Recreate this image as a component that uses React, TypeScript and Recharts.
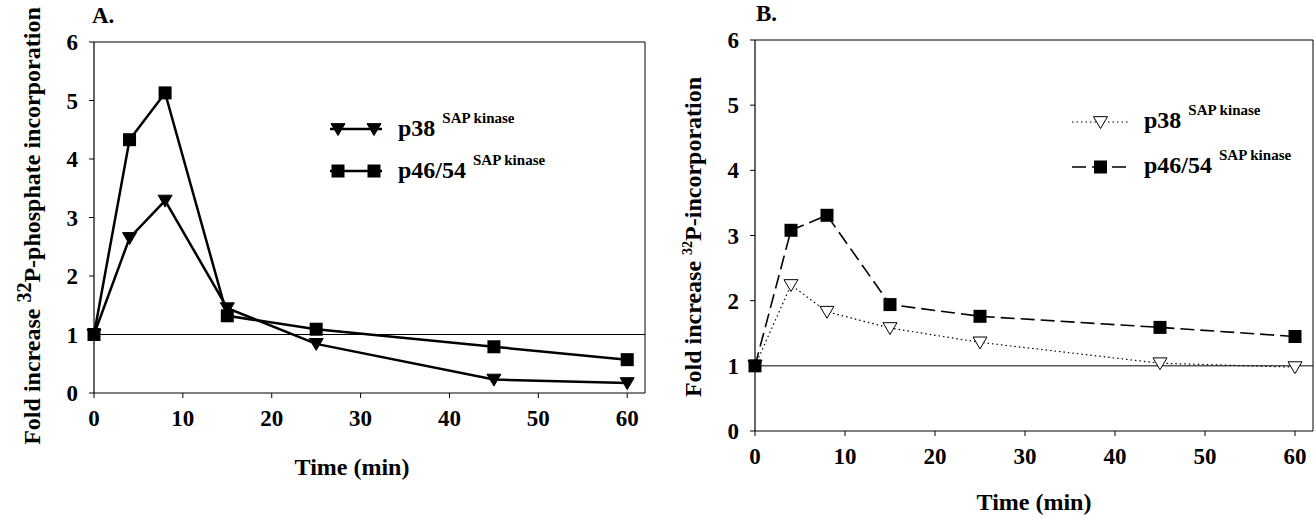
import { LineChart, Line, XAxis, YAxis, ReferenceLine, Legend } from 'recharts'

const FONT = "'Liberation Serif', 'DejaVu Serif', serif"

// time points (min)
const TIME = [0, 4, 8, 15, 25, 45, 60]

// panel A
const A_P38 = [1.0, 2.65, 3.29, 1.45, 0.84, 0.23, 0.17]
const A_P46 = [1.0, 4.33, 5.13, 1.32, 1.09, 0.79, 0.57]

// panel B
const B_P38 = [1.0, 2.24, 1.83, 1.58, 1.36, 1.04, 0.98]
const B_P46 = [1.0, 3.08, 3.31, 1.94, 1.76, 1.59, 1.45]

const X_TICKS = [0, 10, 20, 30, 40, 50, 60]
const Y_TICKS = [0, 1, 2, 3, 4, 5, 6]

const dataA = TIME.map((t, i) => ({ t, p38: A_P38[i], p46: A_P46[i] }))
const dataB = TIME.map((t, i) => ({ t, p38: B_P38[i], p46: B_P46[i] }))

const tickStyle = { fill: '#000', fontSize: 23, fontWeight: 700, fontFamily: FONT }

function Tri({ cx, cy, open, size = 7 }: { cx: number; cy: number; open?: boolean; size?: number }) {
  if (cx == null || cy == null) return null
  const h = size * 1.7
  const d = `M${cx - size},${cy - h * 0.45} L${cx + size},${cy - h * 0.45} L${cx},${cy + h * 0.55} Z`
  return <path d={d} fill={open ? '#fff' : '#000'} stroke="#000" strokeWidth={1} />
}

function Sq({ cx, cy, size = 6.5 }: { cx: number; cy: number; size?: number }) {
  if (cx == null || cy == null) return null
  return <rect x={cx - size} y={cy - size} width={size * 2} height={size * 2} fill="#000" />
}

type Style = { dash?: string; width: number; marker: 'tri' | 'sq'; open?: boolean }

function makeLegend(styles: Record<string, Style>, symW: number, textGap: number, rowH: number) {
  return (props: any) => {
    const payload = props.payload || []
    return (
      <div style={{ fontFamily: FONT, fontWeight: 700, color: '#000' }}>
        {payload.map((e: any) => {
          const s = styles[e.dataKey]
          const mid = symW / 2
          return (
            <div key={e.dataKey} style={{ display: 'flex', alignItems: 'center', height: rowH }}>
              <svg width={symW} height={24} style={{ overflow: 'visible' }}>
                <line x1={0} y1={12} x2={symW} y2={12} stroke="#000" strokeWidth={s.width} strokeDasharray={s.dash} />
                {s.dash ? (
                  s.marker === 'tri' ? <Tri cx={mid} cy={12} open={s.open} /> : <Sq cx={mid} cy={12} />
                ) : s.marker === 'tri' ? (
                  <>
                    <Tri cx={8} cy={12} />
                    <Tri cx={symW - 8} cy={12} />
                  </>
                ) : (
                  <>
                    <Sq cx={8} cy={12} />
                    <Sq cx={symW - 8} cy={12} />
                  </>
                )}
              </svg>
              <span style={{ marginLeft: textGap, fontSize: 24, whiteSpace: 'nowrap', lineHeight: '24px' }}>
                {e.value}
                <span style={{ fontSize: 15, position: 'relative', top: -13, marginLeft: 7 }}>SAP kinase</span>
              </span>
            </div>
          )
        })}
      </div>
    )
  }
}

const stylesA: Record<string, Style> = {
  p38: { width: 2.5, marker: 'tri' },
  p46: { width: 2.5, marker: 'sq' },
}
const stylesB: Record<string, Style> = {
  p38: { width: 1.2, marker: 'tri', open: true, dash: '1.5 3' },
  p46: { width: 1.6, marker: 'sq', dash: '14 6' },
}

function Panel({
  data,
  styles,
  width,
  height,
  margin,
  legendPos,
  legendSymW,
  legendGap,
  legendRowH,
}: {
  data: any[]
  styles: Record<string, Style>
  width: number
  height: number
  margin: { top: number; right: number; bottom: number; left: number }
  legendPos: { left: number; top: number }
  legendSymW: number
  legendGap: number
  legendRowH: number
}) {
  return (
    <LineChart width={width} height={height} data={data} margin={margin}>
      <XAxis
        dataKey="t"
        type="number"
        domain={[0, 62]}
        ticks={X_TICKS}
        interval={0}
        height={30}
        tick={tickStyle}
        tickSize={5}
        tickMargin={12}
        axisLine={{ stroke: '#000', strokeWidth: 1.2 }}
        tickLine={{ stroke: '#000' }}
      />
      <YAxis
        type="number"
        domain={[0, 6]}
        ticks={Y_TICKS}
        interval={0}
        width={40}
        tick={tickStyle}
        tickSize={5}
        tickMargin={11}
        axisLine={{ stroke: '#000', strokeWidth: 1.2 }}
        tickLine={{ stroke: '#000' }}
      />
      {/* plot frame: top and right edges */}
      <ReferenceLine y={6} stroke="#000" strokeWidth={1} />
      <ReferenceLine x={62} stroke="#000" strokeWidth={1} />
      <ReferenceLine y={1} stroke="#000" strokeWidth={1} />
      <Legend
        layout="vertical"
        align="center"
        verticalAlign="middle"
        wrapperStyle={{ left: legendPos.left, top: legendPos.top, width: 320 }}
        content={makeLegend(styles, legendSymW, legendGap, legendRowH)}
      />
      <Line
        dataKey="p38"
        name="p38"
        stroke="#000"
        strokeWidth={styles.p38.width}
        strokeDasharray={styles.p38.dash}
        isAnimationActive={false}
        dot={(p: any) => <Tri key={`t${p.index}`} cx={p.cx} cy={p.cy} open={styles.p38.open} />}
        activeDot={false}
      />
      <Line
        dataKey="p46"
        name="p46/54"
        stroke="#000"
        strokeWidth={styles.p46.width}
        strokeDasharray={styles.p46.dash}
        isAnimationActive={false}
        dot={(p: any) => <Sq key={`s${p.index}`} cx={p.cx} cy={p.cy} />}
        activeDot={false}
      />
    </LineChart>
  )
}

const textBase = { position: 'absolute' as const, fontFamily: FONT, fontWeight: 700, color: '#000', whiteSpace: 'nowrap' as const }

export default function App() {
  return (
    <div style={{ position: 'fixed', left: 0, top: 0, width: 1315, height: 518, background: '#fff', overflow: 'hidden', fontFamily: FONT }}>
      {/* Panel A */}
      <div style={{ position: 'absolute', left: 0, top: 0 }}>
        <Panel
          data={dataA}
          styles={stylesA}
          width={660}
          height={518}
          margin={{ top: 42, right: 15, bottom: 95, left: 54 }}
          legendPos={{ left: 330, top: 108 }}
          legendSymW={52}
          legendGap={16}
          legendRowH={42}
        />
      </div>
      <div style={{ ...textBase, left: 92, top: 3, fontSize: 23 }}>A.</div>
      <div style={{ ...textBase, left: 352, top: 467, fontSize: 24, transform: 'translate(-50%, -50%)' }}>Time (min)</div>
      <div
        style={{
          ...textBase,
          left: 32,
          top: 226,
          fontSize: 24,
          transform: 'translate(-50%, -50%) rotate(-90deg)',
        }}
      >
        Fold increase <span style={{ fontSize: 20, position: 'relative', top: -9 }}>32</span>P-phosphate incorporation
      </div>

      {/* Panel B */}
      <div style={{ position: 'absolute', left: 660, top: 0 }}>
        <Panel
          data={dataB}
          styles={stylesB}
          width={655}
          height={518}
          margin={{ top: 40, right: 2, bottom: 57, left: 55 }}
          legendPos={{ left: 412, top: 99 }}
          legendSymW={57}
          legendGap={15}
          legendRowH={45}
        />
      </div>
      <div style={{ ...textBase, left: 756, top: 1, fontSize: 23 }}>B.</div>
      <div style={{ ...textBase, left: 1034, top: 502, fontSize: 24, transform: 'translate(-50%, -50%)' }}>Time (min)</div>
      <div
        style={{
          ...textBase,
          left: 693,
          top: 237,
          fontSize: 24,
          transform: 'translate(-50%, -50%) rotate(-90deg)',
        }}
      >
        Fold increase <span style={{ fontSize: 14, position: 'relative', top: -9 }}>32</span>P-incorporation
      </div>
    </div>
  )
}
